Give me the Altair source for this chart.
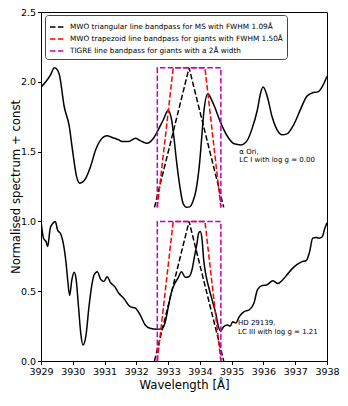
import altair as alt
import pandas as pd

# ---- spectra ----
ori_x = [3929.00, 3929.15, 3929.30, 3929.42, 3929.50, 3929.58, 3929.73, 3929.89, 3929.99,
         3930.12, 3930.22, 3930.41, 3930.56, 3930.72, 3930.88, 3931.08, 3931.20, 3931.29,
         3931.45, 3931.55, 3931.76, 3931.97, 3932.12, 3932.33, 3932.54, 3932.69, 3932.85,
         3933.00, 3933.11, 3933.18, 3933.26, 3933.37, 3933.47, 3933.57, 3933.68, 3933.78,
         3933.88, 3933.99, 3934.06, 3934.12, 3934.25, 3934.35, 3934.46, 3934.66, 3934.87,
         3935.08, 3935.29, 3935.50, 3935.65, 3935.81, 3935.91, 3935.99, 3936.12, 3936.27,
         3936.43, 3936.59, 3936.74, 3936.95, 3937.16, 3937.36, 3937.52, 3937.73, 3937.88,
         3938.00]
ori_y = [1.962, 2.000, 2.050, 2.100, 2.090, 2.050, 1.823, 1.680, 1.513,
         1.321, 1.274, 1.310, 1.393, 1.513, 1.584, 1.613, 1.605, 1.598,
         1.584, 1.572, 1.572, 1.596, 1.579, 1.560, 1.596, 1.656, 1.728,
         1.794, 1.728, 1.608, 1.441, 1.250, 1.130, 1.102, 1.104, 1.142,
         1.226, 1.417, 1.608, 1.775, 1.914, 1.880, 1.823, 1.704, 1.608,
         1.556, 1.548, 1.584, 1.670, 1.800, 1.919, 1.962, 1.895, 1.751,
         1.656, 1.620, 1.627, 1.692, 1.799, 1.895, 1.919, 1.930, 1.978,
         2.040]

hd_x = [3929.00, 3929.08, 3929.16, 3929.21, 3929.29, 3929.37, 3929.45, 3929.52, 3929.63,
        3929.70, 3929.79, 3929.84, 3929.90, 3929.97, 3930.04, 3930.10, 3930.18, 3930.25,
        3930.32, 3930.41, 3930.51, 3930.60, 3930.67, 3930.77, 3930.88, 3930.98, 3931.08,
        3931.19, 3931.32, 3931.45, 3931.60, 3931.81, 3931.97, 3932.12, 3932.28, 3932.43,
        3932.64, 3932.80, 3932.90, 3933.00, 3933.10, 3933.21, 3933.31, 3933.42, 3933.54,
        3933.65, 3933.75, 3933.83, 3933.91, 3933.96, 3934.01, 3934.07, 3934.12, 3934.20,
        3934.30, 3934.40, 3934.51, 3934.58, 3934.65, 3934.75, 3934.87, 3934.96, 3935.03,
        3935.13, 3935.24, 3935.39, 3935.55, 3935.70, 3935.81, 3935.95, 3936.10, 3936.30,
        3936.45, 3936.60, 3936.75, 3936.90, 3937.05, 3937.20, 3937.35, 3937.45, 3937.55,
        3937.65, 3937.75, 3937.85, 3937.93, 3938.00]
hd_y = [0.999, 0.880, 0.855, 0.820, 0.950, 0.985, 0.999, 0.940, 0.905,
        0.845, 0.700, 0.580, 0.470, 0.580, 0.635, 0.593, 0.390, 0.200,
        0.115, 0.175, 0.390, 0.545, 0.616, 0.640, 0.585, 0.570, 0.604,
        0.561, 0.533, 0.485, 0.450, 0.389, 0.378, 0.330, 0.258, 0.234,
        0.227, 0.232, 0.270, 0.380, 0.490, 0.555, 0.593, 0.640, 0.600,
        0.604, 0.652, 0.748, 0.844, 0.915, 0.927, 0.867, 0.724, 0.604,
        0.509, 0.425, 0.330, 0.250, 0.215, 0.246, 0.258, 0.250, 0.282,
        0.272, 0.318, 0.353, 0.366, 0.413, 0.509, 0.540, 0.545, 0.575,
        0.555, 0.580, 0.620, 0.660, 0.690, 0.710, 0.720, 0.780, 0.880,
        0.885, 0.880, 0.890, 0.950, 0.990]

# ---- bandpasses ----
band_names = [
    "MWO triangular line bandpass for MS with FWHM 1.09Å",
    "MWO trapezoid line bandpass for giants with FWHM 1.50Å",
    "TIGRE line bandpass for giants with a 2Å width",
]
band_colors = ["black", "#ff0000", "#bf00bf"]
tri_x = [3932.57, 3933.66, 3934.75]
tri_y = [0.0, 1.0, 0.0]
trap_x = [3932.66, 3933.16, 3934.16, 3934.66]
trap_y = [0.0, 1.0, 1.0, 0.0]
rect_x = [3932.66, 3932.66, 3934.66, 3934.66]
rect_y = [0.0, 1.0, 1.0, 0.0]
panel_offsets = [0.0, 1.1]

# ---- annotations ----
ann_text = ["α Ori,", "\u00a0LC I with log g = 0.00", "HD 29139,", "\u00a0LC III with log g = 1.21"]
ann_x = [3935.24, 3935.24, 3935.20, 3935.20]
ann_y = [1.500, 1.441, 0.272, 0.210]

x_ticks = list(range(3929, 3939))
y_ticks = [0.0, 0.5, 1.0, 1.5, 2.0, 2.5]

spec_rows = []
for i, (x, y) in enumerate(zip(ori_x, ori_y)):
    spec_rows.append({"spec": "ori", "x": x, "y": y, "i": i})
for i, (x, y) in enumerate(zip(hd_x, hd_y)):
    spec_rows.append({"spec": "hd", "x": x, "y": y, "i": i})
spec_df = pd.DataFrame(spec_rows)

band_rows = []
shapes = [(tri_x, tri_y), (trap_x, trap_y), (rect_x, rect_y)]
for name, (xs, ys) in zip(band_names, shapes):
    for p, off in enumerate(panel_offsets):
        for i, (x, y) in enumerate(zip(xs, ys)):
            band_rows.append({"band": name, "panel": f"{name}-{p}", "x": x, "y": y + off, "i": i})
band_df = pd.DataFrame(band_rows)

ann_df = pd.DataFrame({"x": ann_x, "y": ann_y, "t": ann_text})

xscale = alt.Scale(domain=[3929, 3938], nice=False, zero=False)
yscale = alt.Scale(domain=[0, 2.5], nice=False, zero=False)

xaxis = alt.Axis(values=x_ticks, format="d", title="Wavelength [Å]", grid=False,
                 tickSize=3.5, labelPadding=2, titlePadding=3, labelOverlap=False,
                 labelFlush=False, labelBound=False)
yaxis = alt.Axis(values=y_ticks, format=".1f", title="Normalised spectrum + const", grid=False,
                 tickSize=3.5, labelPadding=2, titleX=-26, titleBaseline="middle",
                 labelOverlap=False, labelFlush=False)

spec = alt.Chart(spec_df).mark_line(color="black", strokeWidth=1.5, interpolate="monotone", clip=True).encode(
    x=alt.X("x:Q", scale=xscale, axis=xaxis),
    y=alt.Y("y:Q", scale=yscale, axis=yaxis),
    detail="spec:N",
    order="i:Q",
)

bands = alt.Chart(band_df).mark_line(strokeWidth=1.5, strokeDash=[5.5, 2.4], clip=True).encode(
    x=alt.X("x:Q", scale=xscale, axis=xaxis),
    y=alt.Y("y:Q", scale=yscale, axis=yaxis),
    color=alt.Color("band:N", scale=alt.Scale(domain=band_names, range=band_colors),
                    legend=alt.Legend(title=None, orient="none", legendX=4, legendY=3,
                                      fillColor="white", strokeColor="#444", cornerRadius=3,
                                      padding=4, labelFontSize=7.3, labelFont="DejaVu Sans",
                                      symbolType="stroke", symbolStrokeWidth=1.5,
                                      symbolDash=[5.5, 2.4], symbolSize=196, labelLimit=0,
                                      rowPadding=-1, labelOffset=5)),
    detail="panel:N",
    order="i:Q",
)

ann = alt.Chart(ann_df).mark_text(align="left", baseline="middle", fontSize=7, font="DejaVu Sans",
                                  color="black").encode(
    x=alt.X("x:Q", scale=xscale, axis=xaxis),
    y=alt.Y("y:Q", scale=yscale, axis=yaxis),
    text="t:N",
)

chart = alt.layer(spec, bands, ann).properties(
    width=286, height=349,
    autosize=alt.AutoSizeParams(type="none"),
    padding={"left": 33, "top": 4, "right": 13, "bottom": 37},
).configure_view(stroke="black", strokeWidth=1).configure_axis(
    labelFont="DejaVu Sans", titleFont="DejaVu Sans", labelFontSize=9.5, titleFontSize=11.7,
    titleFontWeight="normal", labelColor="black", titleColor="black", tickColor="black",
    domainColor="black", domainWidth=1, tickWidth=1, labelOverlap=False,
).configure_axisX(labelOverlap=False)

chart.save("out.html", embed_options={"renderer": "svg", "actions": False})
